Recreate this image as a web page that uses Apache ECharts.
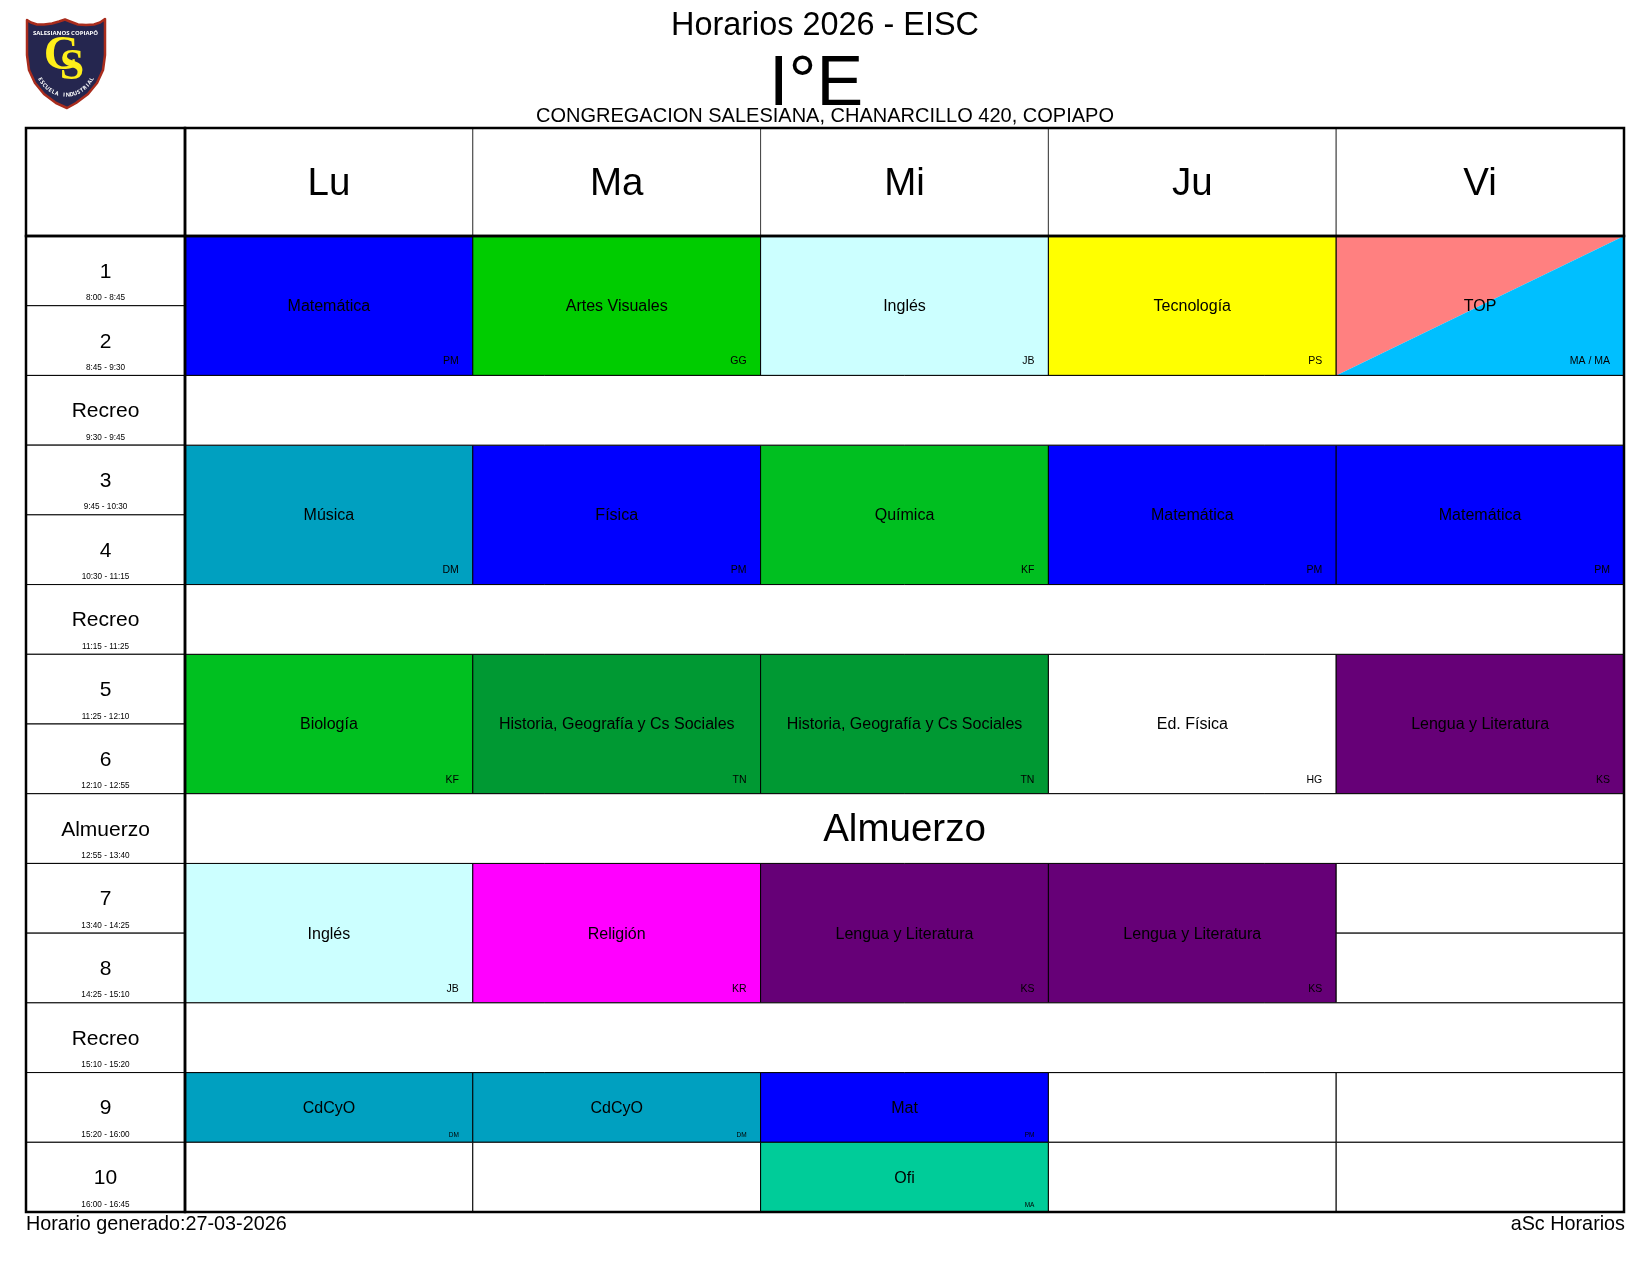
<!DOCTYPE html>
<html>
<head>
<meta charset="utf-8">
<title>Horarios 2026 - EISC</title>
<script src="https://cdn.jsdelivr.net/npm/echarts@6/dist/echarts.min.js"></script>
<style>
html, body { margin: 0; padding: 0; background: #fff; }
#main { width: 1650px; height: 1275px; }
</style>
</head>
<body>
<div id="main"></div>
<script>
var days = ['Lu', 'Ma', 'Mi', 'Ju', 'Vi'];
var rowNames = ['1', '2', 'Recreo', '3', '4', 'Recreo', '5', '6', 'Almuerzo', '7', '8', 'Recreo', '9', '10'];
var rowTimes = ['8:00 - 8:45', '8:45 - 9:30', '9:30 - 9:45', '9:45 - 10:30', '10:30 - 11:15', '11:15 - 11:25',
	'11:25 - 12:10', '12:10 - 12:55', '12:55 - 13:40', '13:40 - 14:25', '14:25 - 15:10', '15:10 - 15:20',
	'15:20 - 16:00', '16:00 - 16:45'];
var hgcs = 'Historia, Geografía y Cs Sociales';
var lyl = 'Lengua y Literatura';
// one entry per row of the table, '' = nothing that period
var subjectsLu = ['Matemática', 'Matemática', '', 'Música', 'Música', '', 'Biología', 'Biología', '', 'Inglés', 'Inglés', '', 'CdCyO', ''];
var subjectsMa = ['Artes Visuales', 'Artes Visuales', '', 'Física', 'Física', '', hgcs, hgcs, '', 'Religión', 'Religión', '', 'CdCyO', ''];
var subjectsMi = ['Inglés', 'Inglés', '', 'Química', 'Química', '', hgcs, hgcs, '', lyl, lyl, '', 'Mat', 'Ofi'];
var subjectsJu = ['Tecnología', 'Tecnología', '', 'Matemática', 'Matemática', '', 'Ed. Física', 'Ed. Física', '', lyl, lyl, '', '', ''];
var subjectsVi = ['TOP', 'TOP', '', 'Matemática', 'Matemática', '', lyl, lyl, '', '', '', '', '', ''];
var teachersLu = ['PM', 'PM', '', 'DM', 'DM', '', 'KF', 'KF', '', 'JB', 'JB', '', 'DM', ''];
var teachersMa = ['GG', 'GG', '', 'PM', 'PM', '', 'TN', 'TN', '', 'KR', 'KR', '', 'DM', ''];
var teachersMi = ['JB', 'JB', '', 'KF', 'KF', '', 'TN', 'TN', '', 'KS', 'KS', '', 'PM', 'MA'];
var teachersJu = ['PS', 'PS', '', 'PM', 'PM', '', 'HG', 'HG', '', 'KS', 'KS', '', '', ''];
var teachersVi = ['MA / MA', 'MA / MA', '', 'PM', 'PM', '', 'KS', 'KS', '', '', '', '', '', ''];

var subjectColors = {
	'Matemática': '#0000ff', 'Mat': '#0000ff', 'Física': '#0000ff',
	'Artes Visuales': '#00cc00', 'Inglés': '#ccffff', 'Tecnología': '#ffff00',
	'Música': '#00a0c0', 'CdCyO': '#00a0c0', 'Química': '#00bf20', 'Biología': '#00c020',
	'Ed. Física': '#ffffff', 'Religión': '#ff00ff', 'Ofi': '#00cc99'
};
subjectColors[hgcs] = '#009933';
subjectColors[lyl] = '#660077';
var topColors = ['#ff8080', '#00bfff'];

var FONT = '"Liberation Sans", Arial, sans-serif';
var subjects = [subjectsLu, subjectsMa, subjectsMi, subjectsJu, subjectsVi];
var teachers = [teachersLu, teachersMa, teachersMi, teachersJu, teachersVi];

function isBreak(row) {
	return rowNames[row] == 'Recreo' || rowNames[row] == 'Almuerzo';
}

// join the same subject on following periods into one block
var cells = [];
for (var d = 0; d < days.length; d++) {
	for (var r = 0; r < rowNames.length; r++) {
		if (isBreak(r)) continue;
		var name = subjects[d][r];
		var span = 1;
		while (name && subjects[d][r + span] == name) span++;
		cells.push({ day: d, row: r, span: span, days: 1, name: name, teacher: teachers[d][r] });
		r += span - 1;
	}
}
for (var b = 0; b < rowNames.length; b++) {
	if (isBreak(b)) cells.push({ day: 0, row: b, span: 1, days: days.length, name: rowNames[b] == 'Almuerzo' ? 'Almuerzo' : '', teacher: '', isBreak: true });
}

function label(x, y, text, size, align, vAlign) {
	return {
		type: 'text',
		style: {
			x: x, y: y, text: text, fill: '#000', fontSize: size, fontFamily: FONT,
			align: align || 'center', textAlign: align || 'center',
			verticalAlign: vAlign || 'middle', textVerticalAlign: vAlign || 'middle'
		}
	};
}

function renderCell(params, api) {
	var c = cells[params.dataIndex];
	var p = api.coord([c.day, c.row]);
	var s = api.size([1, 1]);
	var x = p[0] - s[0] / 2, y = p[1] - s[1] / 2;
	var w = s[0] * c.days, h = s[1] * c.span;
	var kids = [];
	if (c.name == 'TOP') {
		kids.push({ type: 'polygon', shape: { points: [[x, y], [x + w, y], [x, y + h]] }, style: { fill: topColors[0] } });
		kids.push({ type: 'polygon', shape: { points: [[x + w, y], [x + w, y + h], [x, y + h]] }, style: { fill: topColors[1] } });
		kids.push({ type: 'rect', shape: { x: x, y: y, width: w, height: h }, style: { fill: 'none', stroke: '#000', lineWidth: 1 } });
	} else {
		kids.push({
			type: 'rect', shape: { x: x, y: y, width: w, height: h },
			style: { fill: subjectColors[c.name] || '#fff', stroke: '#000', lineWidth: 1 }
		});
	}
	if (c.name) {
		if (c.isBreak) kids.push(label(x + w / 2, y + h / 2 + 2, c.name, 38.5));
		else kids.push(label(x + w / 2, y + h / 2 + 1, c.name, 16));
	}
	if (c.teacher) {
		if (c.span > 1) kids.push(label(x + w - 14, y + h - 14, c.teacher, 10.5, 'right'));
		else kids.push(label(x + w - 14, y + h - 7, c.teacher, 6.5, 'right'));
	}
	return { type: 'group', children: kids };
}

function renderRowHead(params, api) {
	var r = params.dataIndex;
	var p = api.coord([0, r]);
	var s = api.size([1, 1]);
	var x = p[0] - s[0] / 2, y = p[1] - s[1] / 2;
	return {
		type: 'group',
		children: [
			{ type: 'rect', shape: { x: x, y: y, width: s[0], height: s[1] }, style: { fill: '#fff', stroke: '#000', lineWidth: 1 } },
			label(p[0], y + 36, rowNames[r], 21),
			label(p[0], y + 62, rowTimes[r], 8.2)
		]
	};
}

function renderDay(params, api) {
	var d = params.dataIndex;
	var p = api.coord([d, 0]);
	var s = api.size([1, 1]);
	return {
		type: 'group',
		children: [
			{ type: 'rect', shape: { x: p[0] - s[0] / 2, y: p[1] - s[1] / 2, width: s[0], height: s[1] }, style: { fill: '#fff', stroke: '#444', lineWidth: 1 } },
			label(p[0], p[1] + 2, days[d], 38.5)
		]
	};
}

function catAxis(grid, data, inverse) {
	return { type: 'category', gridIndex: grid, data: data, inverse: !!inverse, show: false };
}

// school shield, drawn by hand with graphic elements
function shield() {
	var outline = [[27, 20], [31, 22.5], [37, 24.5], [44, 24.5], [52, 23.5], [59, 21.5], [65, 19.5], [70, 21.5], [78, 24.5], [86, 25],
		[94, 24.5], [100, 22.5], [105, 19], [105, 35], [105, 55], [103, 70], [97, 83], [88, 94], [76, 103], [67, 108],
		[56, 103], [44, 94], [35, 83], [29, 70], [27, 55], [27, 35]];
	var out = [{
		type: 'polygon', z: 20,
		shape: { points: outline },
		style: { fill: '#25264f', stroke: '#a92c1d', lineWidth: 2.5, lineJoin: 'round' }
	}, {
		type: 'text', z: 21, x: 65.5, y: 33,
		style: { text: 'SALESIANOS COPIAPÓ', fill: '#fff', font: 'bold 6px "Open Sans", sans-serif', align: 'center', verticalAlign: 'middle' }
	}, {
		type: 'text', z: 21, x: 61, y: 57,
		style: { text: 'C', fill: '#ffef1a', font: 'bold 48px "Liberation Serif", serif', align: 'center', verticalAlign: 'middle' }
	}, {
		type: 'text', z: 21, x: 72, y: 68,
		style: { text: 'S', fill: '#ffef1a', font: 'bold 44px "Liberation Serif", serif', align: 'center', verticalAlign: 'middle' }
	}];
	var motto = 'ESCUELA INDUSTRIAL';
	var step = 7.4 * Math.PI / 180;
	for (var i = 0; i < motto.length; i++) {
		var a = (motto.length - 1) / 2 * step - i * step;
		a = -a;
		out.push({
			type: 'text', z: 21, x: 66 + 29 * Math.sin(a), y: 66 + 29 * Math.cos(a), rotation: a,
			style: { text: motto.charAt(i), fill: '#fff', font: 'bold 5.5px "Open Sans", sans-serif', align: 'center', verticalAlign: 'middle' }
		});
	}
	return out;
}

function topText(x, y, text, size, align) {
	var t = label(x, y, text, size, align);
	t.z = 30;
	return t;
}

var myChart = echarts.init(document.getElementById('main'));
var rowIds = rowNames.map(function (n, i) { return i; });

var option = {
	animation: false,
	backgroundColor: '#fff',
	grid: [
		{ left: 185, top: 236, width: 1439, height: 976, show: true, z: 10, borderColor: '#000', borderWidth: 2.5, backgroundColor: 'transparent' },
		{ left: 26, top: 236, width: 159, height: 976, show: true, z: 10, borderColor: '#000', borderWidth: 2.5, backgroundColor: 'transparent' },
		{ left: 185, top: 128, width: 1439, height: 108, show: true, z: 10, borderColor: '#000', borderWidth: 2.5, backgroundColor: 'transparent' },
		{ left: 26, top: 128, width: 159, height: 108, show: true, z: 10, borderColor: '#000', borderWidth: 2.5, backgroundColor: 'transparent' }
	],
	xAxis: [catAxis(0, days), catAxis(1, ['']), catAxis(2, days), catAxis(3, [''])],
	yAxis: [catAxis(0, rowIds, true), catAxis(1, rowIds, true), catAxis(2, ['']), catAxis(3, [''])],
	series: [
		{
			type: 'custom', xAxisIndex: 0, yAxisIndex: 0, clip: false, renderItem: renderCell,
			data: cells.map(function (c) { return [c.day, c.row]; })
		},
		{
			type: 'custom', xAxisIndex: 1, yAxisIndex: 1, clip: false, renderItem: renderRowHead,
			data: rowNames.map(function (n, i) { return [0, i]; })
		},
		{
			type: 'custom', xAxisIndex: 2, yAxisIndex: 2, clip: false, renderItem: renderDay,
			data: days.map(function (n, i) { return [i, 0]; })
		}
	],
	graphic: shield().concat([
		topText(825, 26, 'Horarios 2026 - EISC', 32.4),
		topText(816, 86, 'I°E', 70),
		topText(825, 116, 'CONGREGACION SALESIANA, CHANARCILLO 420, COPIAPO', 20),
		topText(26, 1225, 'Horario generado:27-03-2026', 19.8, 'left'),
		topText(1625, 1225, 'aSc Horarios', 19.8, 'right')
	])
};
myChart.setOption(option);
</script>
</body>
</html>
